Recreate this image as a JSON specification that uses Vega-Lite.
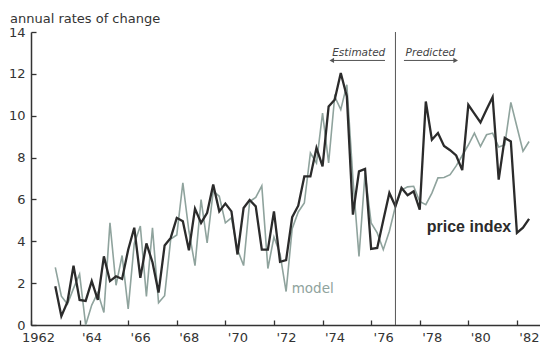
{
  "$schema": "https://vega.github.io/schema/vega-lite/v6.json",
  "width": 509,
  "height": 293,
  "autosize": {"type": "none"},
  "padding": {"left": 31, "top": 32, "right": 0, "bottom": 22},
  "background": "white",
  "config": {"view": {"stroke": null}, "font": "DejaVu Sans"},
  "title": {
    "text": "annual rates of change",
    "anchor": "start",
    "frame": "group",
    "dx": -21,
    "offset": 0,
    "font": "DejaVu Sans",
    "fontSize": 13,
    "fontWeight": "normal",
    "color": "#333333"
  },
  "datasets": {
    "quarters": [
      {"t": 1963.00, "price": 1.85, "model": 2.75},
      {"t": 1963.25, "price": 0.42, "model": 1.38},
      {"t": 1963.50, "price": 1.10, "model": 1.00},
      {"t": 1963.75, "price": 2.83, "model": 1.75},
      {"t": 1964.00, "price": 1.20, "model": 2.43},
      {"t": 1964.25, "price": 1.15, "model": 0.00},
      {"t": 1964.50, "price": 2.10, "model": 0.95},
      {"t": 1964.75, "price": 1.20, "model": 1.55},
      {"t": 1965.00, "price": 3.28, "model": 0.60},
      {"t": 1965.25, "price": 2.10, "model": 4.88},
      {"t": 1965.50, "price": 2.33, "model": 1.90},
      {"t": 1965.75, "price": 2.20, "model": 3.32},
      {"t": 1966.00, "price": 3.60, "model": 0.77},
      {"t": 1966.25, "price": 4.65, "model": 3.90},
      {"t": 1966.50, "price": 2.25, "model": 4.73},
      {"t": 1966.75, "price": 3.90, "model": 1.37},
      {"t": 1967.00, "price": 3.00, "model": 4.64},
      {"t": 1967.25, "price": 1.55, "model": 1.06},
      {"t": 1967.50, "price": 3.80, "model": 1.40},
      {"t": 1967.75, "price": 4.16, "model": 4.10},
      {"t": 1968.00, "price": 5.12, "model": 4.30},
      {"t": 1968.25, "price": 4.96, "model": 6.79},
      {"t": 1968.50, "price": 3.57, "model": 4.48},
      {"t": 1968.75, "price": 5.56, "model": 2.84},
      {"t": 1969.00, "price": 4.88, "model": 5.99},
      {"t": 1969.25, "price": 5.36, "model": 3.92},
      {"t": 1969.50, "price": 6.71, "model": 6.40},
      {"t": 1969.75, "price": 5.43, "model": 6.15},
      {"t": 1970.00, "price": 5.80, "model": 4.88},
      {"t": 1970.25, "price": 5.43, "model": 5.12},
      {"t": 1970.50, "price": 3.37, "model": 3.60},
      {"t": 1970.75, "price": 5.59, "model": 2.84},
      {"t": 1971.00, "price": 5.97, "model": 5.90},
      {"t": 1971.25, "price": 5.67, "model": 6.10},
      {"t": 1971.50, "price": 3.60, "model": 6.65},
      {"t": 1971.75, "price": 3.60, "model": 2.70},
      {"t": 1972.00, "price": 5.43, "model": 4.20},
      {"t": 1972.25, "price": 3.02, "model": 3.40},
      {"t": 1972.50, "price": 3.10, "model": 1.60},
      {"t": 1972.75, "price": 5.15, "model": 4.60},
      {"t": 1973.00, "price": 5.70, "model": 5.40},
      {"t": 1973.25, "price": 7.10, "model": 5.83},
      {"t": 1973.50, "price": 7.10, "model": 8.22},
      {"t": 1973.75, "price": 8.46, "model": 7.74},
      {"t": 1974.00, "price": 7.58, "model": 10.13},
      {"t": 1974.25, "price": 10.44, "model": 7.74},
      {"t": 1974.50, "price": 10.76, "model": 10.92},
      {"t": 1974.75, "price": 12.04, "model": 10.29},
      {"t": 1975.00, "price": 10.92, "model": 11.48},
      {"t": 1975.25, "price": 5.27, "model": 7.00},
      {"t": 1975.50, "price": 7.34, "model": 3.28},
      {"t": 1975.75, "price": 7.46, "model": 7.26},
      {"t": 1976.00, "price": 3.64, "model": 4.88},
      {"t": 1976.25, "price": 3.68, "model": 4.40},
      {"t": 1976.50, "price": 5.00, "model": 3.60},
      {"t": 1976.75, "price": 6.31, "model": 4.48},
      {"t": 1977.00, "price": 5.67, "model": 5.67},
      {"t": 1977.25, "price": 6.55, "model": 6.45},
      {"t": 1977.50, "price": 6.20, "model": 6.60},
      {"t": 1977.75, "price": 6.39, "model": 6.63},
      {"t": 1978.00, "price": 5.51, "model": 5.90},
      {"t": 1978.25, "price": 10.68, "model": 5.75},
      {"t": 1978.50, "price": 8.85, "model": 6.30},
      {"t": 1978.75, "price": 9.17, "model": 7.03},
      {"t": 1979.00, "price": 8.55, "model": 7.05},
      {"t": 1979.25, "price": 8.35, "model": 7.18},
      {"t": 1979.50, "price": 8.10, "model": 7.60},
      {"t": 1979.75, "price": 7.40, "model": 8.10},
      {"t": 1980.00, "price": 10.52, "model": 8.60},
      {"t": 1980.25, "price": 10.10, "model": 9.17},
      {"t": 1980.50, "price": 9.68, "model": 8.53},
      {"t": 1980.75, "price": 10.30, "model": 9.09},
      {"t": 1981.00, "price": 10.89, "model": 9.17},
      {"t": 1981.25, "price": 6.95, "model": 8.50},
      {"t": 1981.50, "price": 8.94, "model": 8.60},
      {"t": 1981.75, "price": 8.77, "model": 10.64},
      {"t": 1982.00, "price": 4.40, "model": 9.47},
      {"t": 1982.25, "price": 4.65, "model": 8.30},
      {"t": 1982.50, "price": 5.07, "model": 8.77}
    ],
    "divider": [{"year": 1977, "lo": 0, "hi": 14}],
    "arrows": [
      {"label": "Estimated", "from": 1976.57, "to": 1974.38, "level": 12.64, "head": "left", "mid": 1975.49},
      {"label": "Predicted", "from": 1977.35, "to": 1979.48, "level": 12.64, "head": "right", "mid": 1978.44}
    ],
    "seriesLabels": [
      {"text": "model", "year": 1972.73, "level": 1.54},
      {"text": "price index", "year": 1978.29, "level": 4.43}
    ]
  },
  "layer": [
    {
      "data": {"name": "quarters"},
      "mark": {"type": "line", "color": "#8fa39d", "strokeWidth": 1.6, "strokeJoin": "miter"},
      "encoding": {
        "x": {
          "field": "t",
          "type": "quantitative",
          "title": null,
          "scale": {"domain": [1962, 1982.95], "nice": false, "zero": false},
          "axis": {
            "values": [1962, 1963, 1964, 1965, 1966, 1967, 1968, 1969, 1970, 1971, 1972, 1973, 1974, 1975, 1976, 1977, 1978, 1979, 1980, 1981, 1982],
            "labelExpr": "datum.value % 2 ? '' : (datum.value == 1962 ? '1962' : \"'\" + slice(toString(datum.value), 2))",
            "labelOffset": {"condition": {"test": "datum.value == 1962", "value": 7}, "value": 12},
            "labelFlush": false,
            "labelOverlap": false,
            "labelBound": false,
            "labelFont": "DejaVu Sans",
            "labelFontSize": 13,
            "labelColor": "#333333",
            "labelPadding": 11,
            "tickSize": -5,
            "tickColor": "#333333",
            "tickWidth": 1.3,
            "domainColor": "#333333",
            "domainWidth": 1.5,
            "grid": false
          }
        },
        "y": {
          "field": "model",
          "type": "quantitative",
          "title": null,
          "scale": {"domain": [0, 14], "nice": false},
          "axis": {
            "values": [0, 1, 2, 3, 4, 5, 6, 7, 8, 9, 10, 11, 12, 13, 14],
            "labelExpr": "datum.value % 2 ? '' : datum.label",
            "labelFont": "DejaVu Sans",
            "labelFontSize": 13,
            "labelColor": "#333333",
            "labelPadding": 11,
            "tickSize": -5,
            "tickColor": "#333333",
            "tickWidth": 1.3,
            "domainColor": "#333333",
            "domainWidth": 1.5,
            "grid": false
          }
        }
      }
    },
    {
      "data": {"name": "quarters"},
      "mark": {"type": "line", "color": "#2b2b2b", "strokeWidth": 2.3, "strokeJoin": "miter"},
      "encoding": {
        "x": {"field": "t", "type": "quantitative", "title": null},
        "y": {"field": "price", "type": "quantitative", "title": null}
      }
    },
    {
      "data": {"name": "divider"},
      "mark": {"type": "rule", "color": "#555555", "strokeWidth": 1},
      "encoding": {
        "x": {"field": "year", "type": "quantitative", "title": null},
        "y": {"field": "lo", "type": "quantitative", "title": null},
        "y2": {"field": "hi"}
      }
    },
    {
      "data": {"name": "arrows"},
      "mark": {"type": "rule", "color": "#555555", "strokeWidth": 1},
      "encoding": {
        "x": {"field": "from", "type": "quantitative", "title": null},
        "x2": {"field": "to"},
        "y": {"field": "level", "type": "quantitative", "title": null}
      }
    },
    {
      "data": {"name": "arrows"},
      "mark": {"type": "point", "filled": true, "color": "#555555", "size": 28, "opacity": 1},
      "encoding": {
        "x": {"field": "to", "type": "quantitative", "title": null},
        "y": {"field": "level", "type": "quantitative", "title": null},
        "shape": {
          "field": "head",
          "type": "nominal",
          "scale": {"domain": ["left", "right"], "range": ["triangle-left", "triangle-right"]},
          "legend": null
        }
      }
    },
    {
      "data": {"name": "arrows"},
      "mark": {"type": "text", "font": "DejaVu Sans", "fontStyle": "italic", "fontSize": 10.5, "color": "#444444", "baseline": "alphabetic", "align": "center", "dy": -4},
      "encoding": {
        "x": {"field": "mid", "type": "quantitative", "title": null},
        "y": {"field": "level", "type": "quantitative", "title": null},
        "text": {"field": "label"}
      }
    },
    {
      "data": {"name": "seriesLabels"},
      "transform": [{"filter": "datum.text == 'model'"}],
      "mark": {"type": "text", "font": "DejaVu Sans", "fontSize": 13.5, "color": "#8fa39d", "align": "left", "baseline": "alphabetic"},
      "encoding": {
        "x": {"field": "year", "type": "quantitative", "title": null},
        "y": {"field": "level", "type": "quantitative", "title": null},
        "text": {"field": "text"}
      }
    },
    {
      "data": {"name": "seriesLabels"},
      "transform": [{"filter": "datum.text == 'price index'"}],
      "mark": {"type": "text", "font": "Liberation Sans", "fontWeight": "bold", "fontSize": 16, "color": "#2b2b2b", "align": "left", "baseline": "alphabetic"},
      "encoding": {
        "x": {"field": "year", "type": "quantitative", "title": null},
        "y": {"field": "level", "type": "quantitative", "title": null},
        "text": {"field": "text"}
      }
    }
  ]
}
